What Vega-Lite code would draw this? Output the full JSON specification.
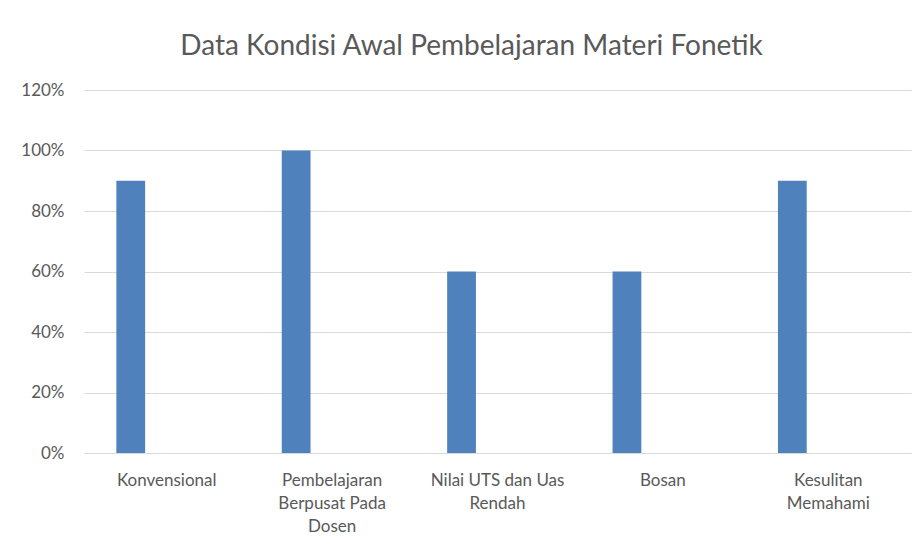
{
  "$schema": "https://vega.github.io/schema/vega-lite/v6.json",
  "autosize": "none",
  "width": 827,
  "height": 363,
  "padding": {"left": 84, "top": 90, "right": 8, "bottom": 91},
  "background": "white",
  "title": {
    "text": "Data Kondisi Awal Pembelajaran Materi Fonetik",
    "font": "Lato",
    "fontSize": 28,
    "fontWeight": "normal",
    "color": "#595959",
    "anchor": "middle",
    "dx": -26,
    "offset": 20
  },
  "data": {
    "values": [
      {"kategori": "Konvensional", "seri": "A", "nilai": 0.9},
      {"kategori": "Pembelajaran Berpusat Pada Dosen", "seri": "A", "nilai": 1.0},
      {"kategori": "Nilai UTS dan Uas Rendah", "seri": "A", "nilai": 0.6},
      {"kategori": "Bosan", "seri": "A", "nilai": 0.6},
      {"kategori": "Kesulitan Memahami", "seri": "A", "nilai": 0.9}
    ]
  },
  "mark": {"type": "bar", "color": "#4f81bd"},
  "encoding": {
    "x": {
      "field": "kategori",
      "type": "nominal",
      "sort": null,
      "scale": {"paddingInner": 0, "paddingOuter": 0},
      "axis": {
        "title": null,
        "labelAngle": 0,
        "labelFont": "Lato",
        "labelFontSize": 17,
        "labelColor": "#595959",
        "labelPadding": 19,
        "labelBaseline": "top",
        "labelLineHeight": 23,
        "labelLimit": 0,
        "ticks": false,
        "domainColor": "#d9d9d9",
        "domainWidth": 1,
        "labelExpr": "datum.value == 'Pembelajaran Berpusat Pada Dosen' ? ['Pembelajaran', 'Berpusat Pada', 'Dosen'] : datum.value == 'Nilai UTS dan Uas Rendah' ? ['Nilai UTS dan Uas', 'Rendah'] : datum.value == 'Kesulitan Memahami' ? ['Kesulitan', 'Memahami'] : datum.value"
      }
    },
    "xOffset": {
      "field": "seri",
      "type": "nominal",
      "scale": {"domain": ["A", "B"], "paddingInner": 0.6, "paddingOuter": 0.45}
    },
    "y": {
      "field": "nilai",
      "type": "quantitative",
      "scale": {"domain": [0, 1.2], "nice": false},
      "axis": {
        "title": null,
        "values": [0, 0.2, 0.4, 0.6, 0.8, 1.0, 1.2],
        "format": ".0%",
        "labelFont": "Lato",
        "labelFontSize": 17,
        "labelColor": "#595959",
        "labelPadding": 20,
        "ticks": false,
        "domain": false,
        "grid": true,
        "gridColor": "#d9d9d9",
        "gridWidth": 1
      }
    }
  },
  "config": {"view": {"stroke": null}}
}
